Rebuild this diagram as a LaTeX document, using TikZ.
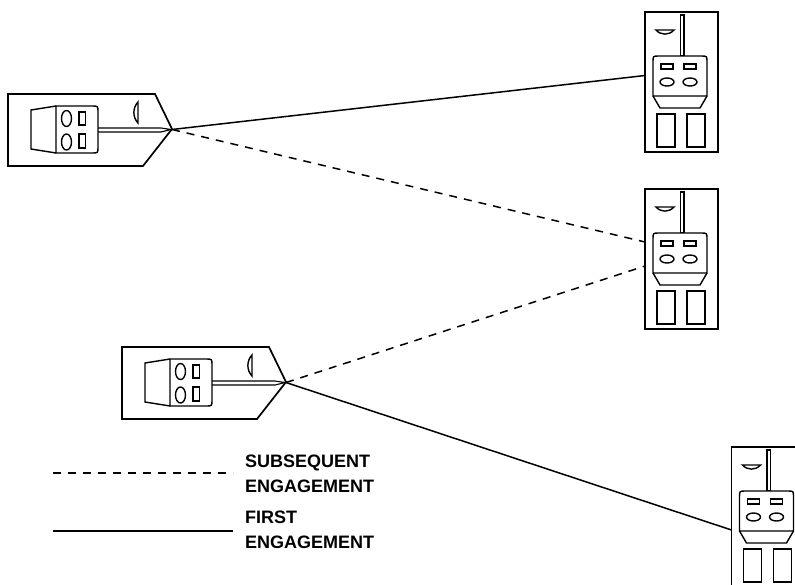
\documentclass[tikz,border=0pt]{standalone}
\usepackage{fontspec}
\setmainfont{Liberation Sans}
\usepackage{tikz}
\usetikzlibrary{positioning}

\begin{document}
\begin{tikzpicture}[
        x=1pt, y=-1pt,
        hull/.style={draw, line width=1.7pt, line join=miter},
        part/.style={draw, line width=1.4pt},
        fire/.style={line width=1.5pt},
        refire/.style={fire, dash pattern=on 8pt off 7pt},
        legend/.style={anchor=north west, inner sep=0pt, align=left, font=\fontsize{18}{25}\selectfont\bfseries},
        shooter/.pic={
            \draw[hull] (0,0) -- (147,0) -- (164,35) -- (135,72) -- (0,72) -- cycle;
            \draw[part] (48,12) -- (23,16) -- (23,55) -- (48,59);
            \draw[part] (48,59) -- (48,12) -- (84,12) .. controls (90,12) .. (90,18)
                -- (90,53) .. controls (90,59) .. (84,59) -- cycle;
            \draw[part] (58.5,24.5) ellipse[x radius=5, y radius=8];
            \draw[part] (58.5,48) ellipse[x radius=5, y radius=8];
            \draw[part] (71,18) rectangle (77.5,31);
            \draw[part] (71,40) rectangle (77.5,54);
            \draw[line width=1.1pt] (90,34) -- (153,34) -- (163,35.5) -- (153,38) -- (90,38);
            \draw[part] (130,8) -- (130,29) .. controls (124.5,23) and (124.5,14) .. cycle;
            \coordinate (-tip) at (164,35.5);
        },
        target/.pic={
            \draw[hull] (0,0) rectangle (73,140);
            \draw[line width=1.1pt] (35.5,3) rectangle (39,44);
            \draw[part] (11,18) -- (29,18) .. controls (24,23.5) and (16,23.5) .. cycle;
            \draw[part, fill=white] (8,84) -- (8,50) .. controls (8,44) .. (14,44) -- (56,44)
                .. controls (62,44) .. (62,50) -- (62,84) -- cycle;
            \draw[part] (8,84) -- (15,96) -- (55,96) -- (62,84);
            \draw[part] (16,52) rectangle (28,57);
            \draw[part] (39,52) rectangle (51,57);
            \draw[part] (22,70) ellipse[x radius=7, y radius=4];
            \draw[part] (45,70) ellipse[x radius=7, y radius=4];
            \draw[part] (12,102) rectangle (30,135);
            \draw[part] (42,102) rectangle (60,135);
        },
    ]
    \useasboundingbox (0,0) rectangle (795,584);
    \clip (0,0) rectangle (795,584);

    \pic (gunA) at (8,94) {shooter};
    \pic (gunB) at (122,347) {shooter};
    \pic (aimA) at (645,12) {target};
    \pic (aimB) at (645,189) {target};
    \pic (aimC) at (731.5,447) {target};

    % where the lines meet the boxes
    \coordinate (hitA) at (645,75.5);
    \coordinate (hitB) at (645,242);
    \coordinate (hitC) at (645,266);
    \coordinate (hitD) at (731.5,530);

    \draw[fire] (gunA-tip) -- (hitA);
    \draw[refire] (gunA-tip) -- (hitB);
    \draw[refire] (gunB-tip) -- (hitC);
    \draw[fire] (gunB-tip) -- (hitD);

    % legend
    \coordinate (keyA) at (53,473);
    \coordinate (keyB) at (233,473);
    \coordinate (keyC) at (53,531);
    \coordinate (keyD) at (233,531);
    \draw[refire] (keyA) -- (keyB);
    \draw[fire] (keyC) -- (keyD);
    \node[legend] (later) at (245,455) {SUBSEQUENT\\ENGAGEMENT};
    \node[legend] (first) at (245,511) {FIRST\\ENGAGEMENT};
\end{tikzpicture}
\end{document}
